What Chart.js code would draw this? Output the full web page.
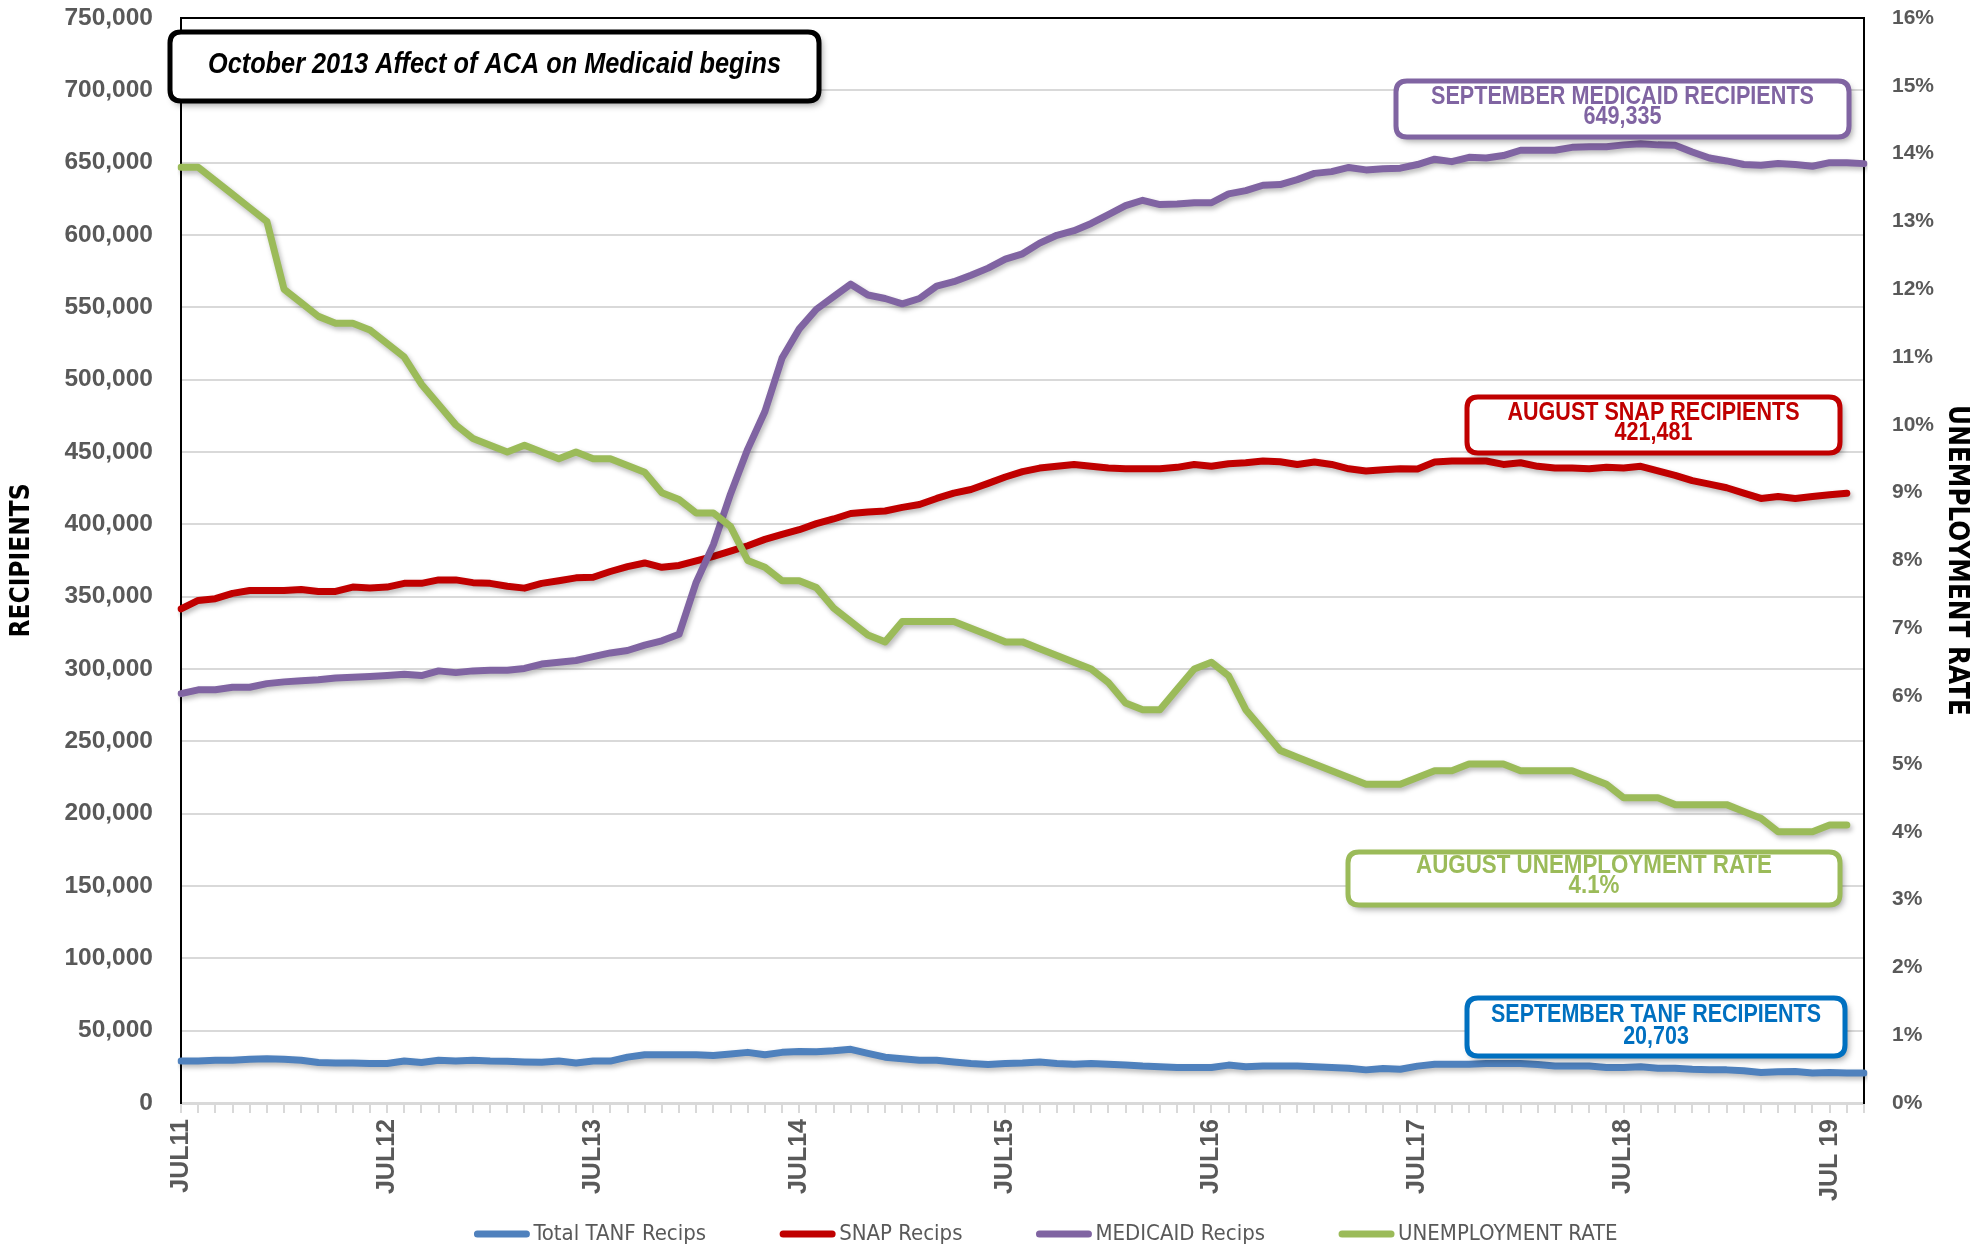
<!DOCTYPE html>
<html>
<head>
<meta charset="utf-8">
<title>Recipients vs unemployment</title>
<script src="https://cdn.jsdelivr.net/npm/chart.js@4.4.1/dist/chart.umd.min.js"></script>
<style>
  html, body { margin: 0; padding: 0; background: #fff; }
  canvas { display: block; }
</style>
</head>
<body>
<canvas id="chart" width="1988" height="1248"></canvas>
<script>
// monthly categories, Jul 2011 .. Sep 2019
const months = [
  'JUL11','AUG11','SEP11','OCT11','NOV11','DEC11','JAN12','FEB12','MAR12','APR12','MAY12','JUN12',
  'JUL12','AUG12','SEP12','OCT12','NOV12','DEC12','JAN13','FEB13','MAR13','APR13','MAY13','JUN13',
  'JUL13','AUG13','SEP13','OCT13','NOV13','DEC13','JAN14','FEB14','MAR14','APR14','MAY14','JUN14',
  'JUL14','AUG14','SEP14','OCT14','NOV14','DEC14','JAN15','FEB15','MAR15','APR15','MAY15','JUN15',
  'JUL15','AUG15','SEP15','OCT15','NOV15','DEC15','JAN16','FEB16','MAR16','APR16','MAY16','JUN16',
  'JUL16','AUG16','SEP16','OCT16','NOV16','DEC16','JAN17','FEB17','MAR17','APR17','MAY17','JUN17',
  'JUL17','AUG17','SEP17','OCT17','NOV17','DEC17','JAN18','FEB18','MAR18','APR18','MAY18','JUN18',
  'JUL18','AUG18','SEP18','OCT18','NOV18','DEC18','JAN19','FEB19','MAR19','APR19','MAY19','JUN19',
  'JUL19','AUG19','SEP19'
];

// only every July gets a printed label
const xTickLabels = ['JUL11','JUL12','JUL13','JUL14','JUL15','JUL16','JUL17','JUL18','JUL 19'];

const tanf = [
  29000, 29000, 29500, 29500, 30200, 30600, 30200, 29500, 28000, 27700,
  27700, 27300, 27300, 29000, 28000, 29500, 29000, 29500, 29000, 28800,
  28400, 28200, 29000, 27700, 29000, 29000, 31700, 33400, 33400, 33400,
  33400, 32800, 33900, 35000, 33400, 35000, 35600, 35400, 36100, 37100,
  34300, 31700, 30600, 29500, 29500, 28400, 27300, 26600, 27300, 27700,
  28400, 27300, 26800, 27300, 26800, 26200, 25500, 25100, 24600, 24600,
  24600, 26200, 25100, 25500, 25500, 25500, 25100, 24600, 24000, 22900,
  23800, 23300, 25500, 26800, 26800, 26800, 27300, 27300, 27300, 26600,
  25500, 25500, 25500, 24600, 24600, 25100, 24000, 24000, 23300, 22900,
  22900, 22300, 21100, 21600, 21800, 20700, 21100, 20700, 20703
];

const snap = [
  341500, 347400, 348600, 352300, 354300, 354300, 354300, 355000, 353600, 353600,
  356600, 356000, 356600, 359200, 359200, 361600, 361600, 359700, 359200, 357200,
  355900, 359200, 361000, 363000, 363400, 367400, 370800, 373300, 370300, 371600,
  374800, 377800, 381500, 385200, 389600, 393100, 396300, 400500, 403700, 407500,
  408500, 409200, 411700, 413700, 417900, 421600, 424100, 428300, 432700, 436400,
  438900, 440100, 441400, 440100, 438900, 438400, 438400, 438400, 439400, 441400,
  440100, 441900, 442600, 443800, 443300, 441400, 443100, 441400, 438400, 436900,
  437700, 438400, 438200, 443100, 443800, 443800, 443800, 441400, 442600, 440100,
  438900, 438900, 438400, 439400, 438900, 440100, 436900, 433900, 430200, 427800,
  425300, 421600, 417900, 419200, 417900, 419200, 420400, 421481, null
];

const medicaid = [
  283000, 285600, 285600, 287400, 287400, 289900, 291100, 291800, 292500, 293800,
  294300, 294800, 295500, 296300, 295500, 298700, 297500, 298700, 299200, 299200,
  300400, 303400, 304600, 305900, 308600, 311100, 312800, 316500, 319500, 324000,
  360000, 386000, 421000, 452000, 478000, 515000, 535100, 548700, 557400, 566000,
  558500, 556100, 552400, 556100, 564700, 567700, 572200, 577100, 583300, 587000,
  594400, 599800, 603000, 608000, 614100, 620300, 624000, 621000, 621500, 622300,
  622300, 628400, 630700, 634400, 634900, 638300, 642600, 643800, 646700, 645000,
  645800, 646200, 648700, 652400, 650700, 653700, 653200, 654900, 658600, 658600,
  658600, 660600, 661000, 661000, 662300, 663000, 662300, 662000, 657400, 653200,
  651200, 648700, 648200, 649400, 648700, 647500, 650000, 650000, 649335
];

// percent
const unemployment = [
  13.8, 13.8, 13.6, 13.4, 13.2, 13.0, 12.0, 11.8, 11.6, 11.5,
  11.5, 11.4, 11.2, 11.0, 10.6, 10.3, 10.0, 9.8, 9.7, 9.6,
  9.7, 9.6, 9.5, 9.6, 9.5, 9.5, 9.4, 9.3, 9.0, 8.9,
  8.7, 8.7, 8.5, 8.0, 7.9, 7.7, 7.7, 7.6, 7.3, 7.1,
  6.9, 6.8, 7.1, 7.1, 7.1, 7.1, 7.0, 6.9, 6.8, 6.8,
  6.7, 6.6, 6.5, 6.4, 6.2, 5.9, 5.8, 5.8, 6.1, 6.4,
  6.5, 6.3, 5.8, 5.5, 5.2, 5.1, 5.0, 4.9, 4.8, 4.7,
  4.7, 4.7, 4.8, 4.9, 4.9, 5.0, 5.0, 5.0, 4.9, 4.9,
  4.9, 4.9, 4.8, 4.7, 4.5, 4.5, 4.5, 4.4, 4.4, 4.4,
  4.4, 4.3, 4.2, 4.0, 4.0, 4.0, 4.1, 4.1, null
];

const WIDE = "'Liberation Sans', Arial, sans-serif";
const NARROW = "'DejaVu Sans Condensed', 'Liberation Sans Narrow', sans-serif";
const GREY = '#595959';

// call-out boxes (drawn on top of the plot); fit = width of the first text line
const callouts = [
  { lines: ['October 2013 Affect of ACA on Medicaid begins'], color: '#000000',
    x: 170, y: 32, w: 649, h: 69, ys: [65], fit: 573, font: 'italic bold 29px ' + WIDE },
  { lines: ['SEPTEMBER MEDICAID RECIPIENTS', '649,335'], color: '#8064a2',
    x: 1396, y: 81, w: 453, h: 56, ys: [97, 117], fit: 383, font: 'bold 26px ' + WIDE },
  { lines: ['AUGUST SNAP RECIPIENTS', '421,481'], color: '#c00000',
    x: 1467, y: 397, w: 373, h: 56, ys: [413, 433], fit: 292, font: 'bold 26px ' + WIDE },
  { lines: ['AUGUST UNEMPLOYMENT RATE', '4.1%'], color: '#9bbb59',
    x: 1348, y: 852, w: 492, h: 53, ys: [866, 886], fit: 356, font: 'bold 26px ' + WIDE },
  { lines: ['SEPTEMBER TANF RECIPIENTS', '20,703'], color: '#0070c0',
    x: 1467, y: 998, w: 378, h: 58, ys: [1015, 1037], fit: 330, font: 'bold 26px ' + WIDE }
];

function roundBox(ctx, x, y, w, h, r) {
  ctx.beginPath();
  ctx.moveTo(x + r, y);
  ctx.lineTo(x + w - r, y);
  ctx.quadraticCurveTo(x + w, y, x + w, y + r);
  ctx.lineTo(x + w, y + h - r);
  ctx.quadraticCurveTo(x + w, y + h, x + w - r, y + h);
  ctx.lineTo(x + r, y + h);
  ctx.quadraticCurveTo(x, y + h, x, y + h - r);
  ctx.lineTo(x, y + r);
  ctx.quadraticCurveTo(x, y, x + r, y);
  ctx.closePath();
}

// soft drop shadow under each series, like the spreadsheet original
const lineShadow = {
  id: 'lineShadow',
  beforeDatasetDraw(chart) {
    const ctx = chart.ctx;
    ctx.save();
    ctx.shadowColor = 'rgba(0,0,0,0.28)';
    ctx.shadowBlur = 5;
    ctx.shadowOffsetX = 2;
    ctx.shadowOffsetY = 3;
  },
  afterDatasetDraw(chart) {
    chart.ctx.restore();
  }
};

const frameAndNotes = {
  id: 'frameAndNotes',
  afterDraw(chart) {
    const ctx = chart.ctx;
    const area = chart.chartArea;

    // black top edge of the plot area
    ctx.save();
    ctx.strokeStyle = '#000';
    ctx.lineWidth = 2;
    ctx.beginPath();
    ctx.moveTo(area.left, area.top);
    ctx.lineTo(area.right, area.top);
    ctx.stroke();
    ctx.restore();

    // legend along the bottom
    ctx.save();
    ctx.font = '22px ' + NARROW;
    ctx.textBaseline = 'middle';
    const sw = 55, gapText = 4, gapItem = 74;
    const sets = chart.data.datasets;
    let total = 0;
    sets.forEach((d, i) => {
      total += sw + gapText + ctx.measureText(d.label).width + (i < sets.length - 1 ? gapItem : 0);
    });
    let lx = chart.width / 2 + 52 - total / 2;
    const ly = 1234;
    sets.forEach(d => {
      ctx.strokeStyle = d.borderColor;
      ctx.lineWidth = 7;
      ctx.lineCap = 'round';
      ctx.beginPath();
      ctx.moveTo(lx + 3, ly);
      ctx.lineTo(lx + sw - 3, ly);
      ctx.stroke();
      lx += sw + gapText;
      ctx.fillStyle = GREY;
      ctx.fillText(d.label, lx, ly);
      lx += ctx.measureText(d.label).width + gapItem;
    });
    ctx.restore();

    // call-outs
    callouts.forEach(c => {
      ctx.save();
      ctx.shadowColor = 'rgba(0,0,0,0.4)';
      ctx.shadowBlur = 7;
      ctx.shadowOffsetX = 3;
      ctx.shadowOffsetY = 4;
      roundBox(ctx, c.x, c.y, c.w, c.h, 11);
      ctx.fillStyle = '#fff';
      ctx.fill();
      ctx.shadowColor = 'transparent';
      ctx.lineWidth = 5;
      ctx.strokeStyle = c.color;
      ctx.stroke();
      ctx.fillStyle = c.color;
      ctx.font = c.font;
      ctx.textAlign = 'center';
      ctx.textBaseline = 'middle';
      // squeeze the text horizontally to get the narrow look of the original
      const sx = c.fit / ctx.measureText(c.lines[0]).width;
      c.lines.forEach((t, i) => {
        ctx.save();
        ctx.translate(c.x + c.w / 2, c.ys[i]);
        ctx.scale(sx, 1);
        ctx.fillText(t, 0, 0);
        ctx.restore();
      });
      ctx.restore();
    });
  }
};

const series = (label, data, color, axis, order) => ({
  label, data,
  borderColor: color,
  backgroundColor: color,
  borderWidth: 7,
  borderCapStyle: 'round',
  borderJoinStyle: 'round',
  pointRadius: 0,
  pointHoverRadius: 0,
  tension: 0,
  yAxisID: axis,
  order
});

// keep the tick labels from pushing the plot area down
const noVPad = s => { s.paddingTop = 0; s.paddingBottom = 0; };

new Chart(document.getElementById('chart'), {
  type: 'line',
  data: {
    labels: months,
    datasets: [
      series('Total TANF Recips', tanf, '#4f81bd', 'y', 4),
      series('SNAP Recips', snap, '#c00000', 'y', 3),
      series('MEDICAID Recips', medicaid, '#8064a2', 'y', 2),
      series('UNEMPLOYMENT RATE', unemployment, '#9bbb59', 'y1', 1)
    ]
  },
  options: {
    responsive: false,
    animation: false,
    devicePixelRatio: 1,
    layout: { padding: { top: 18, left: 0, right: 0, bottom: 0 } },
    plugins: {
      legend: { display: false },
      tooltip: { enabled: false }
    },
    scales: {
      x: {
        grid: { drawOnChartArea: false, drawTicks: true, tickLength: 10, color: '#d9d9d9', lineWidth: 2 },
        border: { display: true, color: '#d9d9d9', width: 3 },
        ticks: {
          autoSkip: false,
          minRotation: 90,
          maxRotation: 90,
          padding: 6,
          color: GREY,
          font: { family: WIDE, size: 25, weight: 'bold' },
          callback: (v, i) => (i % 12 === 0 ? xTickLabels[i / 12] : '')
        },
        afterFit: s => { s.height = 145; }
      },
      y: {
        position: 'left',
        min: 0,
        max: 750000,
        grid: { color: '#d9d9d9', lineWidth: 2, drawTicks: false },
        border: { display: true, color: '#000', width: 2 },
        ticks: {
          stepSize: 50000,
          padding: 28,
          color: GREY,
          font: { family: WIDE, size: 24.5, weight: 'bold' },
          callback: v => v.toLocaleString('en-US')
        },
        title: {
          display: true,
          text: 'RECIPIENTS',
          color: '#000',
          font: { family: NARROW, size: 26, weight: 'bold' },
          padding: { top: 7, bottom: 0 }
        },
        afterFit: s => { s.width = 181; noVPad(s); }
      },
      y1: {
        position: 'right',
        min: 0,
        max: 16,
        grid: { display: false },
        border: { display: true, color: '#000', width: 2 },
        ticks: {
          stepSize: 1,
          padding: 20,
          color: GREY,
          font: { family: WIDE, size: 21, weight: 'bold' },
          callback: v => v + '%'
        },
        title: {
          display: true,
          text: 'UNEMPLOYMENT RATE',
          color: '#000',
          font: { family: NARROW, size: 27.5, weight: 'bold' },
          padding: { top: 15, bottom: 0 }
        },
        afterFit: s => { s.width = 124; noVPad(s); }
      }
    }
  },
  plugins: [lineShadow, frameAndNotes]
});
</script>
</body>
</html>
